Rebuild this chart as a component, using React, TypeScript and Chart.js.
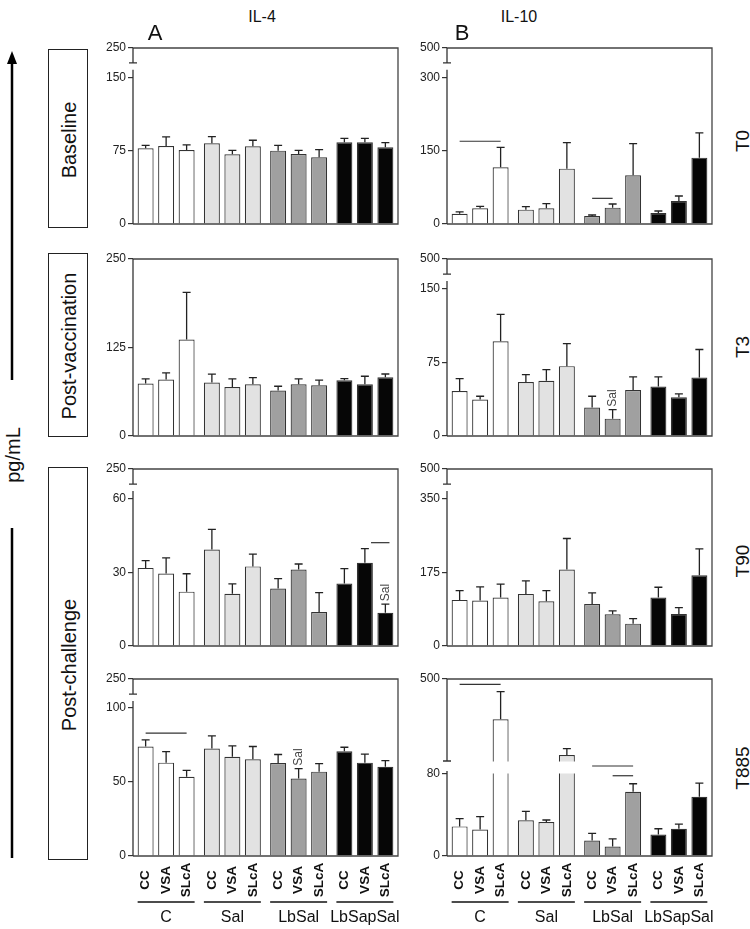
import React, { useEffect, useRef } from "react";
import { Chart, registerables, LinearScale } from "chart.js";

Chart.register(...registerables);

// ---------------- data ----------------
const groups = ["C", "Sal", "LbSal", "LbSapSal"];
const treatments = ["CC", "VSA", "SLcA"];
const groupColors = ["#ffffff", "#e2e2e2", "#a0a0a0", "#060606"];

// order: C(CC,VSA,SLcA), Sal(CC,VSA,SLcA), LbSal(...), LbSapSal(...)
const il4T0Mean = [77.7, 80.1, 76.0, 82.9, 71.6, 79.8, 75.3, 71.9, 68.5, 83.9, 83.9, 78.8];
const il4T0Sem = [3.1, 9.3, 5.2, 6.8, 4.1, 6.2, 5.5, 3.8, 7.9, 4.1, 4.1, 4.7];
const il10T0Mean = [21.2, 32.2, 116.4, 29.5, 32.2, 113.7, 16.4, 33.6, 100.0, 22.6, 47.3, 136.3];
const il10T0Sem = [3.5, 4.1, 41.1, 6.1, 9.6, 53.3, 2.1, 7.5, 65.0, 4.1, 10.2, 50.7];

const il4T3Mean = [74.1, 79.7, 136.3, 75.5, 69.3, 73.1, 64.2, 73.1, 71.7, 78.8, 73.1, 82.9];
const il4T3Sem = [6.6, 9.5, 66.5, 11.8, 11.4, 9.4, 6.1, 7.6, 7.1, 2.3, 11.3, 4.7];
const il10T3Mean = [46.0, 37.2, 96.8, 55.2, 56.3, 71.3, 29.0, 17.7, 47.0, 50.5, 39.5, 59.7];
const il10T3Sem = [12.6, 3.4, 27.3, 7.5, 11.5, 23.1, 11.6, 9.2, 13.3, 9.8, 3.5, 28.6];

const il4T90Mean = [31.9, 29.6, 22.2, 39.4, 21.3, 32.5, 23.5, 31.2, 13.9, 25.5, 34.0, 13.6];
const il4T90Sem = [3.0, 6.4, 7.3, 8.2, 4.1, 5.0, 4.0, 2.3, 7.9, 6.1, 5.8, 3.5];
const il10T90Mean = [109.8, 108.2, 115.3, 124.1, 106.6, 182.2, 100.2, 75.6, 53.3, 115.3, 76.4, 168.6];
const il10T90Sem = [22.2, 32.6, 31.9, 31.0, 25.4, 73.9, 26.3, 7.9, 11.9, 24.7, 15.1, 62.9];

const il4T885Mean = [74.0, 63.1, 53.6, 72.6, 67.0, 65.4, 62.9, 52.3, 57.0, 70.8, 63.1, 60.3];
const il4T885Sem = [4.5, 7.5, 4.3, 8.6, 7.4, 8.6, 5.7, 6.7, 5.4, 2.7, 5.7, 4.1];
const il10T885Mean = [28.9, 25.9, 303.4, 34.8, 33.1, 129.3, 15.1, 9.2, 62.6, 21.0, 26.6, 57.7];
const il10T885Sem = [7.5, 12.5, 134.6, 8.8, 2.0, 30.7, 6.9, 7.5, 7.9, 5.6, 4.5, 13.4];

// y tick values
const il4T0Ticks = [0, 75, 150, 250];
const il10T0Ticks = [0, 150, 300, 500];
const il4T3Ticks = [0, 125, 250];
const il10T3Ticks = [0, 75, 150, 500];
const il4T90Ticks = [0, 30, 60, 250];
const il10T90Ticks = [0, 175, 350, 500];
const il4T885Ticks = [0, 50, 100, 250];
const il10T885Ticks = [0, 80, 500];

// significance bars: [group, fromBar, toBar, value]
const il10T0Sig = [[0, 0, 2, 169.9], [2, 0, 1, 52.7]];
const il4T90Sig = [[3, 1.3, 2.2, 42.2]];
const il4T885Sig = [[0, 0, 2, 83.1]];
const il10T885Sig = [[0, 0, 2, 474], [2, 0, 2, 92.3], [2, 1, 2, 78.3]];

// small notes above bars: [group, bar, text]
const il10T3Notes: any[] = [[2, 1, "Sal"]];
const il4T90Notes: any[] = [[3, 2, "Sal"]];
const il4T885Notes: any[] = [[2, 1, "Sal"]];

// ---------------- broken axis scale ----------------
const PIECES = new WeakMap<any, number[][]>();

class BrokenScale extends LinearScale {
  static id = "broken";
  static defaults = LinearScale.defaults;
  _pieces(): number[][] {
    return PIECES.get((this as any).chart.canvas) || [[(this as any).min, 0], [(this as any).max, 1]];
  }
  getPixelForValue(value: any) {
    if (value === null || value === undefined || isNaN(value)) return NaN;
    const p = this._pieces();
    let i = 0;
    while (i < p.length - 2 && value > p[i + 1][0]) i++;
    const [v0, d0] = p[i];
    const [v1, d1] = p[i + 1];
    const dec = d0 + ((value - v0) / (v1 - v0)) * (d1 - d0);
    return (this as any).getPixelForDecimal(dec);
  }
  getValueForPixel(pixel: number) {
    const dec = (this as any).getDecimalForPixel(pixel);
    const p = this._pieces();
    let i = 0;
    while (i < p.length - 2 && dec > p[i + 1][1]) i++;
    const [v0, d0] = p[i];
    const [v1, d1] = p[i + 1];
    return v0 + ((dec - d0) / (d1 - d0)) * (v1 - v0);
  }
}
Chart.register(BrokenScale as any);

const FONT = '"Liberation Sans", Arial, Helvetica, sans-serif';

const STD_BREAK = [0.915, 0.876];

const panels = [
  { col: 0, row: 0, mean: il4T0Mean, sem: il4T0Sem, ticks: il4T0Ticks, pieces: [[0, 0], [150, 0.83], [250, 1]], brk: STD_BREAK, sig: [], notes: [] },
  { col: 1, row: 0, mean: il10T0Mean, sem: il10T0Sem, ticks: il10T0Ticks, pieces: [[0, 0], [300, 0.83], [500, 1]], brk: STD_BREAK, sig: il10T0Sig, notes: [] },
  { col: 0, row: 1, mean: il4T3Mean, sem: il4T3Sem, ticks: il4T3Ticks, pieces: [[0, 0], [250, 1]], brk: null, sig: [], notes: [] },
  { col: 1, row: 1, mean: il10T3Mean, sem: il10T3Sem, ticks: il10T3Ticks, pieces: [[0, 0], [150, 0.83], [500, 1]], brk: STD_BREAK, sig: [], notes: il10T3Notes },
  { col: 0, row: 2, mean: il4T90Mean, sem: il4T90Sem, ticks: il4T90Ticks, pieces: [[0, 0], [60, 0.83], [250, 1]], brk: STD_BREAK, sig: il4T90Sig, notes: il4T90Notes },
  { col: 1, row: 2, mean: il10T90Mean, sem: il10T90Sem, ticks: il10T90Ticks, pieces: [[0, 0], [350, 0.83], [500, 1]], brk: STD_BREAK, sig: [], notes: [] },
  { col: 0, row: 3, mean: il4T885Mean, sem: il4T885Sem, ticks: il4T885Ticks, pieces: [[0, 0], [100, 0.836], [250, 1]], brk: STD_BREAK, sig: il4T885Sig, notes: il4T885Notes },
  { col: 1, row: 3, mean: il10T885Mean, sem: il10T885Sem, ticks: il10T885Ticks, pieces: [[0, 0], [80, 0.4633], [100, 0.5367], [500, 1]], brk: [0.5367, 0.48], sig: il10T885Sig, notes: [], gap: [80, 100] },
];

// layout (page px)
const ROW_TOP = [48, 259, 469, 679];
const ROW_BOTTOM = [224, 436, 646, 856];
const COL_CANVAS_LEFT = [90, 404];
const Y_AXIS_W = 43;
const CANVAS_W = 313;
const PAD_TOP = 12;

function Panel({ p }: { p: any }) {
  const ref = useRef<HTMLCanvasElement>(null);
  const isBottom = p.row === 3;
  const padBottom = isBottom ? 75 : 12;
  const h = PAD_TOP + (ROW_BOTTOM[p.row] - ROW_TOP[p.row]) + padBottom;

  useEffect(() => {
    const canvas = ref.current!;
    PIECES.set(canvas, p.pieces);

    const plugin = {
      id: "panelDeco",
      afterDatasetsDraw(chart: any) {
        const ctx = chart.ctx;
        const ca = chart.chartArea;
        const y = chart.scales.y;
        const metas = [0, 1, 2].map((i) => chart.getDatasetMeta(i));
        ctx.save();

        // break band across bars
        if (p.gap) {
          const yTop = y.getPixelForValue(p.gap[1]);
          const yBot = y.getPixelForValue(p.gap[0]);
          metas.forEach((m: any, di: number) => {
            m.data.forEach((bar: any, gi: number) => {
              if (p.mean[gi * 3 + di] > p.gap[1]) {
                ctx.fillStyle = "#ffffff";
                ctx.fillRect(bar.x - bar.width / 2 - 1.5, yTop + 0.5, bar.width + 3, yBot - yTop - 1);
              }
            });
          });
        }

        // error bars
        ctx.strokeStyle = "#222";
        ctx.lineWidth = 1.3;
        metas.forEach((m: any, di: number) => {
          m.data.forEach((bar: any, gi: number) => {
            const idx = gi * 3 + di;
            const v = p.mean[idx];
            const e = p.sem[idx];
            const yt = y.getPixelForValue(v);
            const ye = y.getPixelForValue(v + e);
            ctx.beginPath();
            ctx.moveTo(bar.x, yt);
            ctx.lineTo(bar.x, ye);
            ctx.moveTo(bar.x - 4, ye);
            ctx.lineTo(bar.x + 4, ye);
            ctx.stroke();
          });
        });

        // frame
        ctx.strokeStyle = "#444";
        ctx.lineWidth = 1.3;
        ctx.beginPath();
        ctx.moveTo(ca.left, ca.top);
        ctx.lineTo(ca.right, ca.top);
        ctx.lineTo(ca.right, ca.bottom);
        ctx.lineTo(ca.left, ca.bottom);
        ctx.stroke();

        // left axis (with break)
        ctx.strokeStyle = "#333";
        ctx.beginPath();
        if (p.brk) {
          const capY = y.getPixelForDecimal(p.brk[0]);
          const resY = y.getPixelForDecimal(p.brk[1]);
          ctx.moveTo(ca.left, ca.top);
          ctx.lineTo(ca.left, capY);
          ctx.moveTo(ca.left - 4, capY);
          ctx.lineTo(ca.left + 4, capY);
          ctx.moveTo(ca.left, resY);
          ctx.lineTo(ca.left, ca.bottom);
        } else {
          ctx.moveTo(ca.left, ca.top);
          ctx.lineTo(ca.left, ca.bottom);
        }
        ctx.stroke();

        // significance lines
        ctx.strokeStyle = "#333";
        ctx.lineWidth = 1.2;
        p.sig.forEach((s: number[]) => {
          const [g, a, b, v] = s;
          const x0 = metas[0].data[g].x;
          const pitch = metas[1].data[g].x - x0;
          const yy = y.getPixelForValue(v);
          ctx.beginPath();
          ctx.moveTo(x0 + a * pitch, yy);
          ctx.lineTo(x0 + b * pitch, yy);
          ctx.stroke();
        });

        // small notes
        ctx.fillStyle = "#444";
        ctx.font = `12px ${FONT}`;
        p.notes.forEach((n: any[]) => {
          const [g, bi, txt] = n;
          const bar = metas[bi].data[g];
          const idx = g * 3 + bi;
          const ye = y.getPixelForValue(p.mean[idx] + p.sem[idx]);
          ctx.save();
          ctx.translate(bar.x, ye - 3);
          ctx.rotate(-Math.PI / 2);
          ctx.textAlign = "left";
          ctx.textBaseline = "middle";
          ctx.fillText(txt, 0, 0);
          ctx.restore();
        });

        // x labels for bottom row
        if (isBottom) {
          ctx.fillStyle = "#111";
          metas.forEach((m: any, di: number) => {
            m.data.forEach((bar: any) => {
              ctx.save();
              ctx.translate(bar.x, ca.bottom + 24);
              ctx.rotate(-Math.PI / 2);
              ctx.textAlign = "center";
              ctx.textBaseline = "middle";
              ctx.font = `bold 13.5px ${FONT}`;
              ctx.fillText(treatments[di], 0, 0);
              ctx.restore();
            });
          });
          ctx.strokeStyle = "#111";
          ctx.lineWidth = 1.4;
          groups.forEach((gname, g) => {
            const b0 = metas[0].data[g];
            const b2 = metas[2].data[g];
            ctx.beginPath();
            ctx.moveTo(b0.x - b0.width / 2, ca.bottom + 46);
            ctx.lineTo(b2.x + b2.width / 2, ca.bottom + 46);
            ctx.stroke();
            ctx.font = `16px ${FONT}`;
            ctx.textAlign = "center";
            ctx.textBaseline = "middle";
            ctx.fillText(gname, metas[1].data[g].x, ca.bottom + 62);
          });
        }
        ctx.restore();
      },
    };

    const chart = new Chart(canvas, {
      type: "bar",
      data: {
        labels: groups,
        datasets: treatments.map((t, di) => ({
          label: t,
          data: groups.map((_, gi) => p.mean[gi * 3 + di]),
          backgroundColor: groupColors,
          borderColor: "#333",
          borderWidth: 1.2,
          barPercentage: 0.78,
          categoryPercentage: 0.928,
        })),
      },
      options: {
        responsive: false,
        animation: false,
        devicePixelRatio: 1,
        layout: { padding: { top: PAD_TOP, bottom: padBottom, left: 0, right: CANVAS_W - Y_AXIS_W - 265 } },
        plugins: { legend: { display: false }, tooltip: { enabled: false } },
        scales: {
          x: { display: false },
          y: {
            type: "broken" as any,
            min: 0,
            max: p.ticks[p.ticks.length - 1],
            afterBuildTicks: (s: any) => {
              s.ticks = p.ticks.map((v: number) => ({ value: v }));
            },
            afterFit: (s: any) => {
              s.width = Y_AXIS_W;
            },
            ticks: {
              color: "#222",
              font: { family: FONT, size: 12 },
              padding: 2,
              callback: (v: any) => String(v),
            },
            grid: { drawOnChartArea: false, drawTicks: true, tickLength: 5, color: "#333", lineWidth: 1.2 },
            border: { display: false },
          },
        },
      } as any,
      plugins: [plugin],
    });
    return () => chart.destroy();
  }, []);

  return (
    <canvas
      ref={ref}
      width={CANVAS_W}
      height={h}
      style={{ position: "absolute", left: COL_CANVAS_LEFT[p.col], top: ROW_TOP[p.row] - PAD_TOP, width: CANVAS_W, height: h }}
    />
  );
}

function Txt({ x, y, size, children, rotate, weight }: any) {
  return (
    <div
      style={{
        position: "absolute",
        left: x,
        top: y,
        transform: `translate(-50%, -50%)${rotate ? " rotate(-90deg)" : ""}`,
        fontSize: size,
        fontFamily: FONT,
        fontWeight: weight || "normal",
        color: "#111",
        whiteSpace: "nowrap",
        lineHeight: 1,
      }}
    >
      {children}
    </div>
  );
}

function Box({ top, bottom, label }: any) {
  return (
    <div
      style={{
        position: "absolute",
        left: 48,
        top,
        width: 40,
        height: bottom - top,
        border: "1px solid #222",
        boxSizing: "border-box",
      }}
    >
      <Txt x={20} y={(bottom - top) / 2} size={20} rotate>
        {label}
      </Txt>
    </div>
  );
}

export default function App() {
  return (
    <div style={{ position: "absolute", left: 0, top: 0, width: 750, height: 929, background: "#fff", overflow: "hidden" }}>
      {panels.map((p, i) => (
        <Panel key={i} p={p} />
      ))}
      <Txt x={262} y={17} size={16}>IL-4</Txt>
      <Txt x={519} y={17} size={16}>IL-10</Txt>
      <Txt x={155} y={33} size={22}>A</Txt>
      <Txt x={462} y={33} size={22}>B</Txt>
      <Txt x={742} y={141} size={19} rotate>T0</Txt>
      <Txt x={742} y={347} size={19} rotate>T3</Txt>
      <Txt x={742} y={561} size={19} rotate>T90</Txt>
      <Txt x={742} y={768} size={19} rotate>T885</Txt>
      <Box top={49} bottom={228} label="Baseline" />
      <Box top={253} bottom={437} label="Post-vaccination" />
      <Box top={467} bottom={860} label="Post-challenge" />
      <Txt x={13} y={455} size={20} rotate>pg/mL</Txt>
      <svg width={30} height={929} style={{ position: "absolute", left: 0, top: 0 }}>
        <line x1={12} y1={60} x2={12} y2={380} stroke="#000" strokeWidth={2.5} />
        <polygon points="12,51 7,64 17,64" fill="#000" />
        <line x1={12} y1={528} x2={12} y2={858} stroke="#000" strokeWidth={2.5} />
      </svg>
    </div>
  );
}
